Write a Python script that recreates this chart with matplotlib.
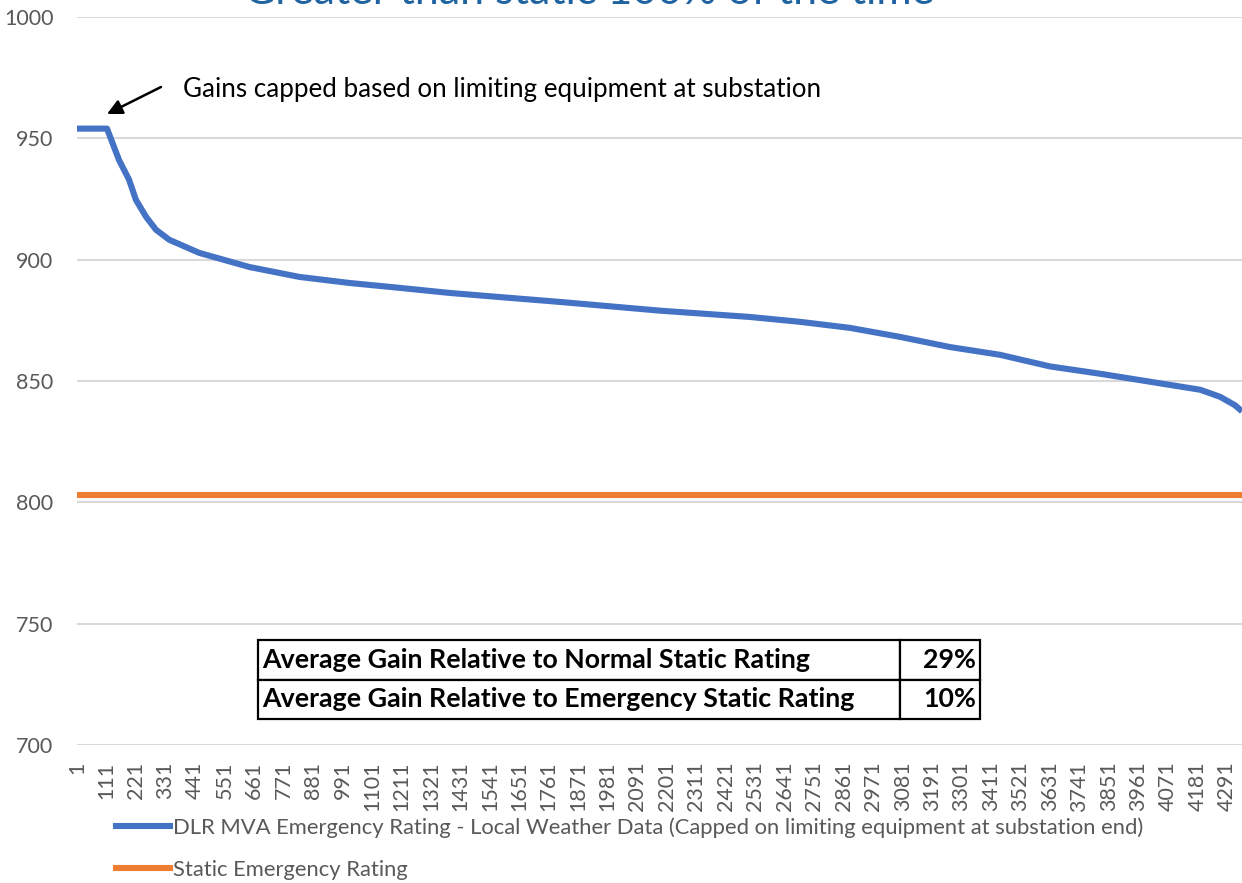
import matplotlib
matplotlib.use("Agg")
import matplotlib.pyplot as plt
from matplotlib.lines import Line2D

# ---- data ----
dlr_category = [1, 113, 158, 195, 221, 259, 296, 345, 457, 643, 830, 1017, 1203,
                1390, 1566, 1801, 2174, 2510, 2697, 2884, 3070, 3257, 3444, 3631,
                3817, 4004, 4191, 4265, 4321, 4347]
dlr_mva = [954, 954, 941, 933, 924.6, 917.6, 912.3, 908.2, 902.8, 897, 892.9,
           890.4, 888.4, 886.3, 884.7, 882.6, 879, 876.4, 874.4, 871.9, 868.2,
           864, 860.8, 856, 853, 849.7, 846.4, 843.5, 840, 837.5]
static_category = [1, 4347]
static_mva = [803, 803]

x_tick_positions = [1, 111, 221, 331, 441, 551, 661, 771, 881, 991, 1101, 1211,
                    1321, 1431, 1541, 1651, 1761, 1871, 1981, 2091, 2201, 2311,
                    2421, 2531, 2641, 2751, 2861, 2971, 3081, 3191, 3301, 3411,
                    3521, 3631, 3741, 3851, 3961, 4071, 4181, 4291]
x_tick_labels = [str(v) for v in x_tick_positions]
y_ticks = [700, 750, 800, 850, 900, 950, 1000]

legend_labels = ["DLR MVA Emergency Rating - Local Weather Data (Capped on limiting equipment at substation end)",
                 "Static Emergency Rating"]
table_rows = [["Average Gain Relative to Normal Static Rating", "29%"],
              ["Average Gain Relative to Emergency Static Rating", "10%"]]
title_text = "Greater than static 100% of the time"
annotation_text = "Gains capped based on limiting equipment at substation"

# ---- styling ----
plt.rcParams['font.family'] = ['Lato', 'DejaVu Sans']
W, H = 1242, 883
fig = plt.figure(figsize=(W / 100, H / 100), dpi=100)
left_px, right_px, top_px, bottom_px = 77, 1242, 17, 745
ax = fig.add_axes([left_px / W, 1 - bottom_px / H, (right_px - left_px) / W,
                   (bottom_px - top_px) / H])

blue = '#4472C4'
orange = '#ED7D31'
grey_text = '#595959'
grid_c = '#D9D9D9'

ax.plot(dlr_category, dlr_mva, color=blue, lw=4.4, solid_capstyle='butt',
        solid_joinstyle='round', zorder=3)
ax.plot(static_category, static_mva, color=orange, lw=4.4, solid_capstyle='butt',
        zorder=3)

ax.set_xlim(1, 4347)
ax.set_ylim(700, 1000)
ax.set_yticks(y_ticks)
ax.set_yticklabels([str(v) for v in y_ticks])
ax.set_xticks(x_tick_positions)
ax.set_xticklabels(x_tick_labels, rotation=90)
ax.tick_params(axis='both', length=0, colors=grey_text, labelsize=15.5)
ax.tick_params(axis='y', pad=17)
ax.tick_params(axis='x', pad=12)
for s in ax.spines.values():
    s.set_visible(False)
ax.yaxis.grid(True, color=grid_c, lw=1.5, zorder=0)
ax.set_axisbelow(True)

# title (mostly cropped off the top, as in the reference)
fig.text(589 / W, 1 - 4 / H, title_text, color='#1F64A0', fontsize=31,
         ha='center', va='baseline')


def fp(x, y):
    return (x, H - y)


# annotation with arrow
ax.annotate(annotation_text, xy=fp(108, 113), xycoords='figure pixels',
            xytext=fp(183, 89), textcoords='figure pixels', fontsize=18.7,
            color='black', ha='left', va='center')
ax.annotate('', xy=fp(107, 114), xycoords='figure pixels',
            xytext=fp(161, 87), textcoords='figure pixels',
            arrowprops=dict(arrowstyle='-|>,head_length=0.9,head_width=0.45',
                            color='black', lw=1.8, shrinkA=0, shrinkB=0))

# table
tx0, tx1, ty0, ty1 = 258, 980, 640, 719
tbl = ax.table(cellText=table_rows, colWidths=[642 / 722, 80 / 722],
               bbox=[(tx0 - left_px) / (right_px - left_px),
                     (bottom_px - ty1) / (bottom_px - top_px),
                     (tx1 - tx0) / (right_px - left_px),
                     (ty1 - ty0) / (bottom_px - top_px)],
               cellLoc='left', zorder=5)
tbl.auto_set_font_size(False)
for (r, c), cell in tbl.get_celld().items():
    cell.set_edgecolor('black')
    cell.set_linewidth(1.6)
    cell.set_facecolor('white')
    t = cell.get_text()
    t.set_fontsize(19.3)
    t.set_fontweight('bold')
    t.set_color('black')
    if c == 1:
        t.set_ha('right')
        cell._loc = 'right'
        cell.PAD = 0.05
    else:
        cell.PAD = 0.006

# legend
handles = [Line2D([], [], color=blue, lw=4.4), Line2D([], [], color=orange, lw=4.4)]
leg = fig.legend(handles, legend_labels, loc='upper left',
                 bbox_to_anchor=(116 / W, 1 - 817 / H), frameon=False,
                 fontsize=15.85, handlelength=2.45, handletextpad=0.14,
                 labelspacing=1.0, borderpad=0, borderaxespad=0)
for t in leg.get_texts():
    t.set_color(grey_text)

fig.savefig('out.png', dpi=100)
